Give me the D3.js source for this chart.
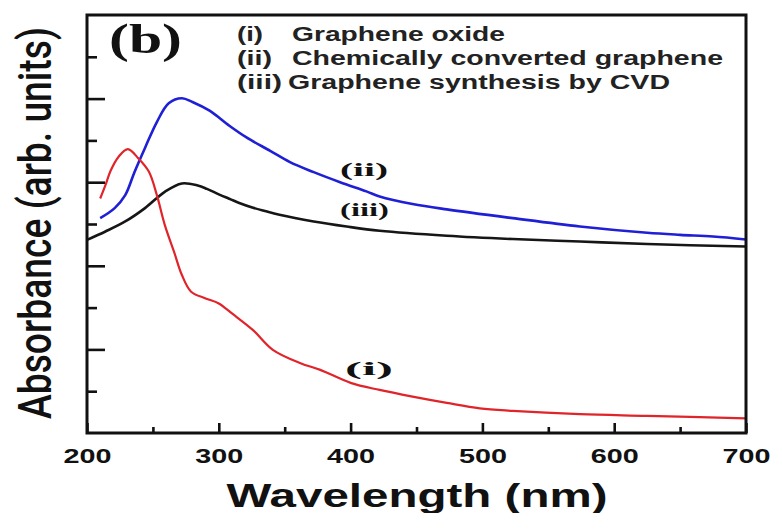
<!doctype html>
<html>

<head>
    <meta charset="utf-8">
    <script src="https://d3js.org/d3.v7.min.js"></script>
    <style>
        body { margin: 0; background: #fff; }
        svg { display: block; }
    </style>
</head>

<body>

    <div id="chart"></div>

    <script>
        // (i) graphene oxide - red
        var goWave = [210, 214, 218, 224, 231, 239, 247, 253, 259, 266, 272, 279, 290, 300, 310, 326, 341, 362, 377, 400, 422, 447, 473, 498, 523, 574, 625, 700];
        var goAbs = [5.61, 5.93, 6.28, 6.61, 6.79, 6.57, 6.25, 5.69, 4.98, 4.34, 3.78, 3.38, 3.22, 3.10, 2.86, 2.46, 1.99, 1.67, 1.51, 1.20, 1.03, 0.87, 0.72, 0.59, 0.53, 0.45, 0.41, 0.35];

        // (ii) chemically converted graphene - blue
        var ccgWave = [210, 221, 229, 236, 244, 253, 262, 272, 280, 293, 308, 321, 339, 354, 372, 392, 412, 422, 447, 473, 523, 574, 625, 650, 675, 700];
        var ccgAbs = [5.14, 5.38, 5.69, 6.24, 6.82, 7.44, 7.89, 8.01, 7.92, 7.71, 7.35, 7.07, 6.75, 6.48, 6.24, 6.00, 5.78, 5.66, 5.48, 5.35, 5.14, 4.94, 4.79, 4.74, 4.70, 4.63];

        // (iii) CVD graphene - black
        var cvdWave = [200, 214, 229, 244, 259, 272, 284, 291, 300, 309, 315, 326, 335, 346, 372, 397, 422, 473, 523, 574, 625, 700];
        var cvdAbs = [4.62, 4.82, 5.06, 5.38, 5.77, 5.97, 5.92, 5.84, 5.71, 5.59, 5.51, 5.39, 5.31, 5.22, 5.06, 4.94, 4.84, 4.72, 4.64, 4.58, 4.52, 4.46];

        var xMajor = [200, 300, 400, 500, 600, 700];
        var xMinor = [250, 350, 450, 550, 650];
        var yMajor = [2, 4, 6, 8];
        var yMinor = [1, 3, 5, 7, 9];

        var legendTags = ["(i)", "(ii)", "(iii)"];
        var legendNames = ["Graphene oxide", "Chemically converted graphene", "Graphene synthesis by CVD"];

        var margin = { top: 15, right: 26, bottom: 80, left: 87 };
        var W = 772, H = 513;
        var width = W - margin.left - margin.right;
        var height = H - margin.top - margin.bottom;

        var svg = d3.select("#chart").append("svg")
            .attr("width", W)
            .attr("height", H);

        var g = svg.append("g")
            .attr("transform", "translate(" + margin.left + "," + margin.top + ")");

        var x = d3.scaleLinear().domain([200, 700]).range([0, width]);
        var y = d3.scaleLinear().domain([0, 10]).range([height, 0]);

        function pairs(wave, val) {
            return wave.map(function (w, i) { return [w, val[i]]; });
        }

        var line = d3.line()
            .x(function (d) { return x(d[0]); })
            .y(function (d) { return y(d[1]); })
            .curve(d3.curveCatmullRom.alpha(0.5));

        // curves
        g.append("path").datum(pairs(cvdWave, cvdAbs))
            .attr("d", line).attr("fill", "none")
            .attr("stroke", "#161616").attr("stroke-width", 2.6);
        g.append("path").datum(pairs(ccgWave, ccgAbs))
            .attr("d", line).attr("fill", "none")
            .attr("stroke", "#1f1fd6").attr("stroke-width", 2.6);
        g.append("path").datum(pairs(goWave, goAbs))
            .attr("d", line).attr("fill", "none")
            .attr("stroke", "#e0242a").attr("stroke-width", 2.2);

        // x axis (ticks point inward)
        var xAx = g.append("g").attr("transform", "translate(0," + height + ")")
            .call(d3.axisBottom(x).tickValues(xMajor).tickSize(-10).tickPadding(15));
        g.append("g").attr("transform", "translate(0," + height + ")")
            .call(d3.axisBottom(x).tickValues(xMinor).tickSize(-6).tickFormat(""));

        xAx.selectAll("text")
            .attr("font-family", "'Liberation Sans', Arial, sans-serif")
            .attr("font-weight", "bold")
            .attr("font-size", 21)
            .attr("fill", "#111")
            .attr("textLength", 48)
            .attr("lengthAdjust", "spacingAndGlyphs");

        // y axis (no labels)
        g.append("g").call(d3.axisLeft(y).tickValues(yMajor).tickSize(-18).tickFormat(""));
        g.append("g").call(d3.axisLeft(y).tickValues(yMinor).tickSize(-10).tickFormat(""));

        g.selectAll(".domain").remove();
        g.selectAll(".tick line").attr("stroke", "#111").attr("stroke-width", 2.6);

        // frame
        g.append("rect")
            .attr("width", width).attr("height", height)
            .attr("fill", "none").attr("stroke", "#111").attr("stroke-width", 3);

        // axis titles
        svg.append("text")
            .attr("x", 417).attr("y", 507)
            .attr("text-anchor", "middle")
            .attr("font-family", "'Liberation Sans', Arial, sans-serif")
            .attr("font-weight", "bold")
            .attr("font-size", 34)
            .attr("fill", "#111")
            .attr("textLength", 381)
            .attr("lengthAdjust", "spacingAndGlyphs")
            .text("Wavelength (nm)");

        // y title: squeeze along its length with a scale instead of textLength
        var yTitle = svg.append("text")
            .attr("text-anchor", "middle")
            .attr("font-family", "Roboto, sans-serif")
            .attr("font-weight", 500)
            .attr("font-size", 46)
            .attr("fill", "#111")
            .text("Absorbance (arb. units)");
        var natural = yTitle.node().getComputedTextLength();
        var sx = natural > 0 ? 392 / natural : 0.75;
        yTitle.attr("transform", "translate(51,223) rotate(-90) scale(" + sx + ",1)");

        // panel letter
        svg.append("text")
            .attr("x", 109).attr("y", 53)
            .attr("font-family", "'Liberation Serif', 'Times New Roman', serif")
            .attr("font-weight", "bold")
            .attr("font-size", 42)
            .attr("fill", "#111")
            .attr("textLength", 73)
            .attr("lengthAdjust", "spacingAndGlyphs")
            .text("(b)");

        // legend text
        var tagX = 237, tagLen = [26, 35, 45];
        var nameX = [292, 292, 288], nameLen = [213, 431, 382];
        var baseY = [41, 65, 89];
        legendTags.forEach(function (t, i) {
            svg.append("text")
                .attr("x", tagX).attr("y", baseY[i])
                .attr("font-family", "'Liberation Sans', Arial, sans-serif")
                .attr("font-weight", "bold").attr("font-size", 20).attr("fill", "#222")
                .attr("textLength", tagLen[i]).attr("lengthAdjust", "spacingAndGlyphs")
                .text(t);
            svg.append("text")
                .attr("x", nameX[i]).attr("y", baseY[i])
                .attr("font-family", "'Liberation Sans', Arial, sans-serif")
                .attr("font-weight", "bold").attr("font-size", 20).attr("fill", "#222")
                .attr("textLength", nameLen[i]).attr("lengthAdjust", "spacingAndGlyphs")
                .text(legendNames[i]);
        });

        // curve labels
        var curveLabels = [
            { t: "(ii)", x: 340, y: 176, len: 48 },
            { t: "(iii)", x: 340, y: 216, len: 49 },
            { t: "(i)", x: 345, y: 375, len: 48 }
        ];
        curveLabels.forEach(function (d) {
            svg.append("text")
                .attr("x", d.x).attr("y", d.y)
                .attr("font-family", "'Liberation Serif', 'Times New Roman', serif")
                .attr("font-weight", "bold").attr("font-size", 18).attr("fill", "#111")
                .attr("textLength", d.len).attr("lengthAdjust", "spacingAndGlyphs")
                .text(d.t);
        });
    </script>
</body>

</html>
